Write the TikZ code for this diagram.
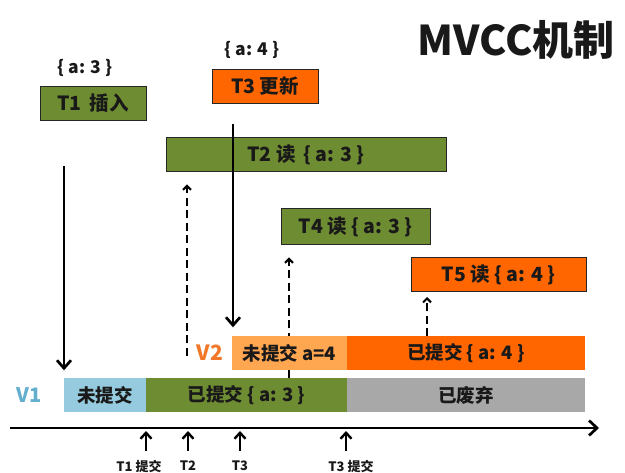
\documentclass[tikz,border=0pt]{standalone}
\usepackage{fontspec}
\setmainfont{Noto Sans CJK SC}
\usetikzlibrary{arrows.meta,calc}
\definecolor{mgreen}{RGB}{110,140,50}
\definecolor{morange}{RGB}{255,102,0}
\definecolor{lorange}{RGB}{255,166,80}
\definecolor{lblue}{RGB}{150,202,222}
\definecolor{mgray}{RGB}{168,168,168}
\definecolor{vblue}{RGB}{100,175,205}
\definecolor{vorange}{RGB}{240,120,40}
\definecolor{txt}{RGB}{25,25,25}
\begin{document}
\begin{tikzpicture}[x=1pt,y=-1pt,
  topbox/.style={draw=black!85,line width=1pt,rectangle,inner sep=0pt,minimum height=34pt,text=txt,font=\fontsize{19.5}{22}\selectfont\bfseries},
  rowbox/.style={rectangle,inner sep=0pt,minimum height=34pt,text=txt,font=\fontsize{18.5}{21}\selectfont\bfseries},
  bigarrow/.style={line width=2.7pt,-{Straight Barb[length=8pt,width=14pt,line width=2.7pt]}},
  dasharrow/.style={line width=2pt,dash pattern=on 8pt off 4.5pt,-{Straight Barb[length=4pt,width=8pt,line width=2pt]}},
  tickarrow/.style={line width=2.4pt,-{Straight Barb[length=6pt,width=11pt,line width=2.4pt]}},
  ticklabel/.style={font=\fontsize{13}{15}\selectfont\bfseries,text=txt,inner sep=0pt},
  vallabel/.style={font=\fontsize{17.5}{20}\selectfont\bfseries,text=txt}]
\useasboundingbox (0,0) rectangle (625,473);

% title
\node[font=\fontsize{41}{46}\selectfont\bfseries,text=txt] (title) at (516,40) {MVCC机制};

% value labels
\node[vallabel] (va3) at (85,68) {\{ a: 3 \}};
\node[vallabel] (va4) at (252,50) {\{ a: 4 \}};

% dashed read arrows (behind the boxes)
\coordinate (d2s) at (187,356);
\coordinate (d4s) at (289,378.5);
\coordinate (d5s) at (427,336.5);

% transaction boxes
\node[topbox,fill=mgreen,minimum width=106pt] (T1) at (93,103.5) {T1\, 插入};
\node[topbox,fill=morange,minimum width=106pt] (T3) at (265,86.5) {T3 更新};
\node[topbox,fill=mgreen,minimum width=280pt] (T2) at (306,155) {T2 读 \,\{ a: 3 \}};
\node[topbox,fill=mgreen,minimum width=149pt,minimum height=36pt] (T4) at (355.5,227) {T4 读 \{ a: 3 \}};
\node[topbox,fill=morange,minimum width=175pt] (T5) at (498.5,274.5) {T5 读 \{ a: 4 \}};

\draw[dasharrow,shorten >=12pt] (d2s) -- (d2s |- T2.south);
\draw[dasharrow,shorten >=12pt] (d4s) -- (d4s |- T4.south);
\draw[dasharrow,shorten >=5pt] (d5s) -- (d5s |- T5.south);

% version rows
\node[font=\fontsize{21}{25}\selectfont\bfseries,text=vorange] (V2) at (210,353) {V2};
\node[rowbox,fill=lorange,minimum width=115pt] (V2a) at (289.5,353.5) {未提交 a=4};
\node[rowbox,fill=morange,minimum width=238pt] (V2b) at (466,353.5) {已提交 \{ a: 4 \}};

\node[font=\fontsize{20}{24}\selectfont\bfseries,text=vblue] (V1) at (29,395) {V1};
\node[rowbox,fill=lblue,minimum width=82pt] (V1a) at (105,395.5) {未提交};
\node[rowbox,fill=mgreen,minimum width=201pt] (V1b) at (246.5,395.5) {已提交 \{ a: 3 \}};
\node[rowbox,fill=mgray,minimum width=238pt] (V1c) at (466,395.5) {已废弃};

% time axis
\coordinate (ax0) at (10,428);
\coordinate (ax1) at (599,428);
\draw[line width=2.7pt,-{Straight Barb[length=8pt,width=15pt,line width=2.7pt]}] (ax0) -- (ax1);

% ticks
\node[ticklabel] (L1) at (139,466) {T1 提交};
\node[ticklabel] (L2) at (188,466) {T2};
\node[ticklabel] (L3) at (240,466) {T3};
\node[ticklabel] (L4) at (351,466) {T3 提交};
\coordinate (k1) at (146,451);
\coordinate (k2) at (188,451);
\coordinate (k3) at (240,451);
\coordinate (k4) at (346,451);
\draw[tickarrow,shorten >=3pt] (k1) -- (k1 |- ax0);
\draw[tickarrow,shorten >=3pt] (k2) -- (k2 |- ax0);
\draw[tickarrow,shorten >=3pt] (k3) -- (k3 |- ax0);
\draw[tickarrow,shorten >=3pt] (k4) -- (k4 |- ax0);

% solid arrows
\coordinate (t1s) at (64,166);
\draw[bigarrow,shorten >=8pt] (t1s) -- (t1s |- V1a.north);
\coordinate (t3s) at (233,124);
\draw[bigarrow,shorten >=9pt] (t3s) -- (t3s |- V2a.north);
\end{tikzpicture}
\end{document}
